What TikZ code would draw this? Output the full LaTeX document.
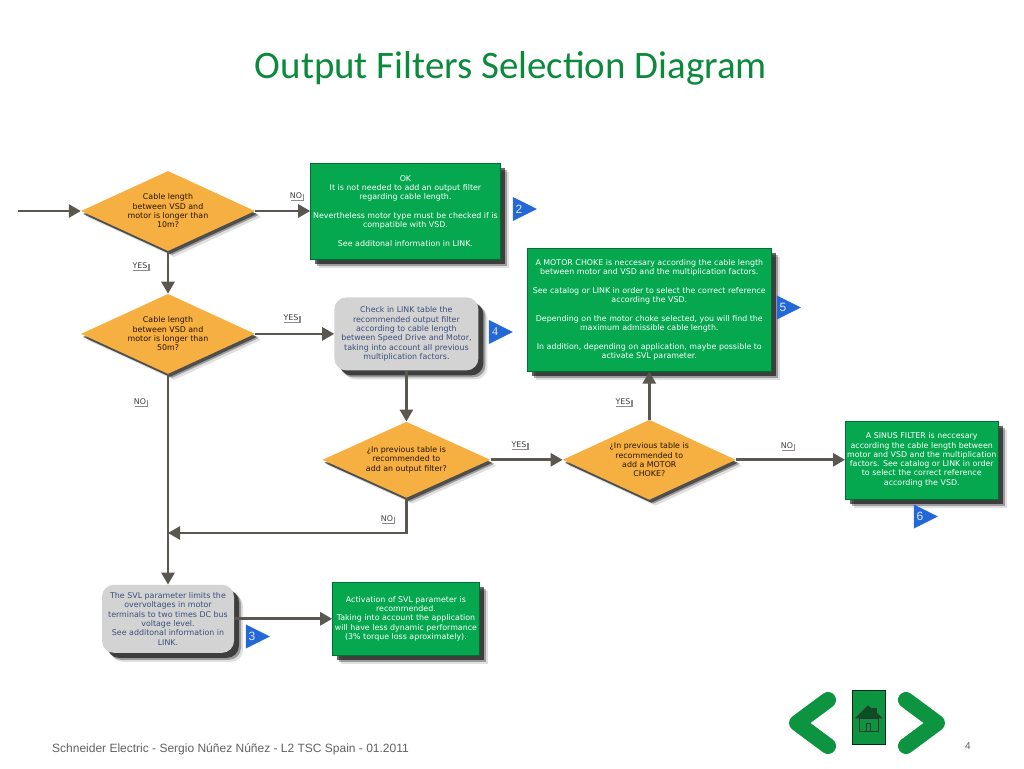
\documentclass[tikz,border=0pt]{standalone}
\usepackage{fontspec}
\setmainfont{DejaVu Sans}
\newfontfamily\titlefont{Carlito}
\newfontfamily\footfont{Liberation Sans}
\newfontfamily\tagserif{Liberation Serif}
\usepackage{tikz}
\usetikzlibrary{shapes.geometric, arrows.meta, positioning, shadows}
\definecolor{flowgreen}{HTML}{05A84F}
\definecolor{flowgrey}{HTML}{D3D3D3}
\definecolor{floworange}{HTML}{F6B042}
\definecolor{flowblue}{HTML}{2468D8}
\definecolor{flowline}{HTML}{5A5650}
\definecolor{flownavy}{HTML}{3B4F7A}
\definecolor{titlegreen}{HTML}{0B8A3C}
\definecolor{navgreen}{HTML}{0D9440}

\begin{document}
\begin{tikzpicture}[
    x=1pt, y=-1pt,
    every node/.style={font=\fontsize{7.9}{9.3}\selectfont, inner sep=0pt, align=center},
    softshadow/.style={drop shadow={shadow xshift=9pt, shadow yshift=-9pt, fill=black, opacity=0.12}, drop shadow={shadow xshift=7pt, shadow yshift=-7pt, fill=black, opacity=0.3}, drop shadow={shadow xshift=5pt, shadow yshift=-5pt, fill=black, opacity=0.6}},
    question/.style={diamond, fill=floworange, text=black!85!orange, aspect=2.15, minimum width=174pt, minimum height=80pt, drop shadow={shadow xshift=6pt, shadow yshift=-6pt, fill=black, opacity=0.12}, drop shadow={shadow xshift=4pt, shadow yshift=-4pt, fill=black, opacity=0.3}, drop shadow={shadow xshift=2pt, shadow yshift=-3pt, fill=black, opacity=0.5}},
    result/.style={rectangle, fill=flowgreen, draw=black!35!flowgreen, line width=0.5pt, text=white, softshadow},
    check/.style={rectangle, rounded corners=12pt, fill=flowgrey, text=flownavy, softshadow},
    arrow/.style={-{Triangle[length=12pt, width=13pt]}, line width=2.7pt, draw=flowline},
    lbl/.style={fill=white, text=black!75, inner sep=0.6pt, drop shadow={shadow xshift=1.5pt, shadow yshift=-1.5pt, fill=black!45, opacity=1}},
    tag/.style={isosceles triangle, isosceles triangle apex angle=54, isosceles triangle stretches, fill=flowblue, text=white!85!flowblue, minimum width=24pt, minimum height=24pt, font=\fontsize{12}{12}\selectfont\footfont},
    chevron/.style={line width=16pt, line cap=round, line join=round, draw=navgreen}
]
    \useasboundingbox (0,0) rectangle (1024,768);

    \node[font=\fontsize{38.9}{44}\selectfont\titlefont, text=titlegreen] (title) at (511,68) {Output Filters Selection Diagram};

    \coordinate (start) at (18,211);
    \node[question] (lenA) at (168,211) {Cable length\\between VSD and\\motor is longer than\\10m?};
    \node[question, below=42.5pt of lenA] (lenB) {Cable length\\between VSD and\\motor is longer than\\50m?};
    \node[result, right=55pt of lenA, minimum width=190pt, minimum height=96pt] (okBox) {OK\\It is not needed to add an output filter\\regarding cable length.\\[9.3pt]Nevertheless motor type must be checked if is\\compatible with VSD.\\[9.3pt]See additonal information in LINK.};
    \node[check, right=79pt of lenB, minimum width=144pt, minimum height=73pt] (tableBox) {Check in LINK table the\\recommended output filter\\according to cable length\\between Speed Drive and Motor,\\taking into account all previous\\multiplication factors.};
    \node[question, below=51pt of tableBox, minimum width=168pt, minimum height=76pt] (filterQ) {¿In previous table is\\recommended to\\add an output filter?};
    \node[question, right=72pt of filterQ, minimum width=173pt] (chokeQ) {¿In previous table is\\recommended to\\add a MOTOR\\CHOKE?};
    \node[result, above=48pt of chokeQ, minimum width=244pt, minimum height=123pt] (chokeBox) {A MOTOR CHOKE is neccesary according the cable length\\between motor and VSD and the multiplication factors.\\[9.3pt]See catalog or LINK in order to select the correct reference\\according the VSD.\\[9.3pt]Depending on the motor choke selected, you will find the\\maximum admissible cable length.\\[9.3pt]In addition, depending on application, maybe possible to\\activate SVL parameter.};
    \node[result, right=109pt of chokeQ, minimum width=153pt, minimum height=78pt] (sinusBox) {A SINUS FILTER is neccesary\\according the cable length between\\motor and VSD and the multiplication\\factors. See catalog or LINK in order\\to select the correct reference\\according the VSD.};
    \node[check, below=210.5pt of lenB, minimum width=132pt, minimum height=68pt] (svlBox) {The SVL parameter limits the\\overvoltages in motor\\terminals to two times DC bus\\voltage level.\\See additonal information in\\LINK.};
    \node[result, right=98pt of svlBox, minimum width=147pt, minimum height=73pt] (svlOk) {Activation of SVL parameter is\\recommended.\\Taking into account the application\\will have less dynamic performance\\(3\% torque loss aproximately).};
    \coordinate (merge) at (168,533);

    \draw[arrow] (start) -- (lenA);
    \draw[arrow] (lenA) -- (okBox);
    \draw[arrow] (lenA) -- (lenB);
    \draw[arrow] (lenB) -- (tableBox);
    \draw[arrow] (tableBox) -- (filterQ);
    \draw[arrow] (filterQ) -- (chokeQ);
    \draw[arrow] (chokeQ) -- (chokeBox);
    \draw[arrow] (chokeQ) -- (sinusBox);
    \draw[arrow] (filterQ.south) |- (merge);
    \draw[arrow] (lenB) -- (svlBox);
    \draw[arrow] (svlBox) -- (svlOk);

    \node[lbl] (noA) at (296,196) {NO};
    \node[lbl] (yesA) at (140,266) {YES};
    \node[lbl] (yesB) at (291,318) {YES};
    \node[lbl] (noB) at (140,402) {NO};
    \node[lbl] (yesC) at (519,445) {YES};
    \node[lbl] (noC) at (387,519) {NO};
    \node[lbl] (yesD) at (623,402) {YES};
    \node[lbl] (noD) at (787,446) {NO};

    \node[tag] (tagTwo) at (519,209) {2};
    \node[tag, font=\fontsize{12}{12}\selectfont\tagserif] (tagFour) at (495,332) {4};
    \node[tag] (tagFive) at (783,307.5) {5};
    \node[tag] (tagSix) at (920,516.5) {6};
    \node[tag] (tagThree) at (252,636.5) {3};

    \draw[chevron] (828,700) -- (797,723) -- (828,746);
    \draw[chevron] (906,700) -- (937,723) -- (906,746);
    \draw[fill=navgreen, draw=black!70!navgreen, line width=1pt] (852,690) rectangle (885,744);
    \draw[fill=black!45!navgreen, draw=black!80, line width=0.8pt] (872,708) rectangle (876,714);
    \draw[fill=black!45!navgreen, draw=black!80, line width=0.8pt] (856,718) -- (868,706) -- (882,718) -- cycle;
    \draw[draw=black!80, line width=0.8pt] (859,718) rectangle (878,731);
    \draw[draw=black!80, line width=0.8pt] (866,723) rectangle (870,731);

    \node[font=\fontsize{12}{14}\selectfont\footfont, text=black!62, anchor=west] (footer) at (52,749) {Schneider Electric - Sergio Núñez Núñez - L2 TSC Spain - 01.2011};
    \node[font=\fontsize{10}{12}\selectfont\footfont, text=black!62] (pageNo) at (968,746) {4};
\end{tikzpicture}
\end{document}
